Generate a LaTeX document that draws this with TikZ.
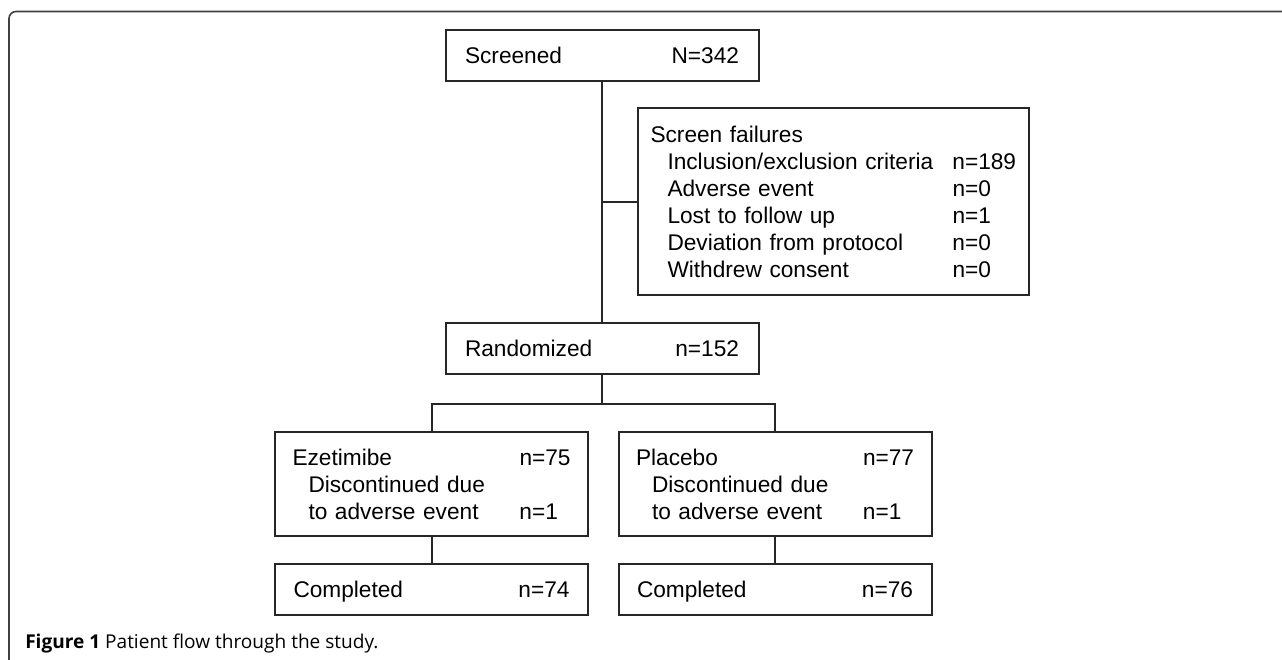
\documentclass[tikz,border=0pt]{standalone}
\usepackage{fontspec}
\setmainfont{Liberation Sans}
\newfontfamily\capfont{Open Sans}
\usetikzlibrary{positioning}
\newcommand{\failrow}[2]{\hspace*{12.75pt}\makebox[213.75pt][l]{#1}#2}
\newcommand{\armrow}[2]{\makebox[170.25pt][l]{#1}#2}
\tikzset{%
  % Specifications for style of nodes:
        base/.style = {rectangle, draw=black!85, line width=1.5pt,
                       inner sep=0pt, align=left,
                       font=\fontsize{17}{20.25}\selectfont},
     onerow/.style = {base, minimum width=234.75pt, minimum height=38.25pt,
                       text width=205.5pt, text depth=0pt},
   armbox/.style = {base, minimum width=234.75pt, minimum height=78pt,
                       text width=208.5pt},
    failbox/.style = {base, minimum width=293.25pt, minimum height=140.25pt,
                       text width=274.5pt},
       link/.style = {draw=black!85, line width=1.5pt},
      frame/.style = {draw=black!75, line width=1.2pt, rounded corners=5.25pt},
}
\begin{document}
\begin{tikzpicture}[x=0.75pt, y=-0.75pt]
  \useasboundingbox (0,0) rectangle (1282,660);
  \draw[frame] (1300,11.5) -- (9,11.5) -- (9,668) -- (40,668);

  % Specification of nodes (position, etc.)
  \node (screened)   [onerow]  at (602,55.5)   {Screened\hfill N=342};
  \node (failures)   [failbox] at (833.5,201.5) {Screen failures\\
      \failrow{Inclusion/exclusion criteria}{n=189}\\
      \failrow{Adverse event}{n=0}\\
      \failrow{Lost to follow up}{n=1}\\
      \failrow{Deviation from protocol}{n=0}\\
      \failrow{Withdrew consent}{n=0}};
  \node (randomized) [onerow]  at (602,348.5)  {Randomized\hfill n=152};
  \coordinate (split) at (602,404);

  \node (ezetimibe)  [armbox]  at (431.5,484)  {\armrow{Ezetimibe}{n=75}\\
      \armrow{\hspace*{12pt}Discontinued due}{}\\
      \armrow{\hspace*{12pt}to adverse event}{n=1}};
  \node (placebo)    [armbox]  at (775,484)    {\armrow{Placebo}{n=77}\\
      \armrow{\hspace*{12pt}Discontinued due}{}\\
      \armrow{\hspace*{12pt}to adverse event}{n=1}};
  \node (completedE) [onerow, text width=207pt] at (431.5,589.5) {Completed\hfill n=74};
  \node (completedP) [onerow, text width=207pt] at (775,589.5)   {Completed\hfill n=76};

  \node (caption) [anchor=base west, inner sep=0pt,
      font=\capfont\fontsize{14.3}{16}\selectfont] at (25,648)
      {\textbf{Figure 1} Patient flow through the study.};

  % Specification of lines between nodes specified above
  \draw[link] (screened) -- (randomized);
  \draw[link] (screened.south |- failures.west) -- (failures.west);
  \draw[link] (randomized) -- (split);
  \draw[link] (ezetimibe.north) |- (split) -| (placebo.north);
  \draw[link] (ezetimibe) -- (completedE);
  \draw[link] (placebo) -- (completedP);
\end{tikzpicture}
\end{document}
